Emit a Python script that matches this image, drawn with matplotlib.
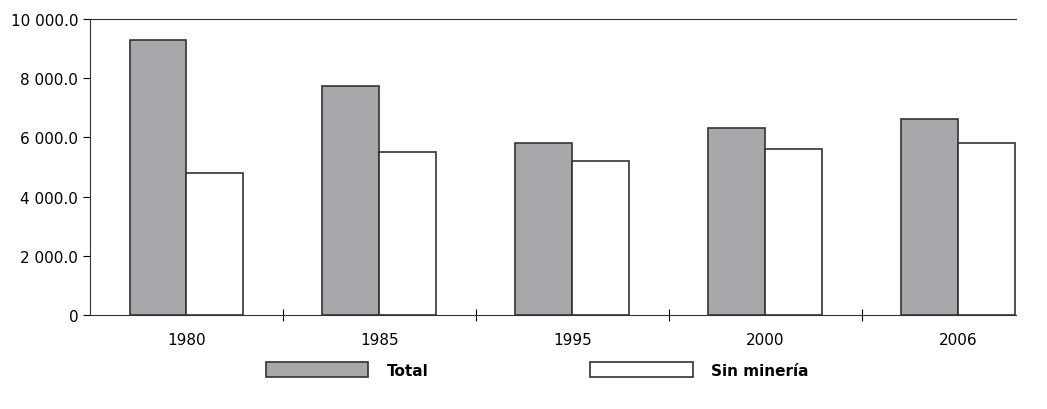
import matplotlib.pyplot as plt
import numpy as np
from matplotlib.ticker import FuncFormatter

years = ['1980', '1985', '1995', '2000', '2006']
total = [9290, 7740, 5810, 6320, 6620]
sin_mineria = [4800, 5510, 5200, 5610, 5810]

plt.rcParams['font.family'] = ['DejaVu Sans']
fig = plt.figure(figsize=(10.47, 4.10), dpi=100)
ax = fig.add_axes([90 / 1047, 1 - 316 / 410, 926 / 1047, 296 / 410])

x = np.arange(len(years))
w = 0.295
ax.bar(x - w / 2, total, w, color='#a7a8ab', edgecolor='#333333', lw=1.2, label='Total')
ax.bar(x + w / 2, sin_mineria, w, color='white', edgecolor='#333333', lw=1.2, label='Sin minería')

ax.set_yticks(np.arange(0, 10001, 2000))
ax.yaxis.set_major_formatter(FuncFormatter(
    lambda v, p: '0' if v == 0 else f'{v:,.1f}'.replace(',', ' ')))
ax.set_xticks(x[:-1] + 0.5, [''] * 4)
ax.set_xticks(x, years, minor=True)
ax.set_ylim(0, 10000)
ax.set_xlim(-0.5, 4.3)
ax.tick_params(axis='x', which='major', length=8, direction='inout')
ax.tick_params(axis='x', which='minor', length=0, pad=12)
ax.tick_params(axis='y', length=5, labelsize=11)
ax.tick_params(axis='x', which='minor', labelsize=11)
ax.spines['right'].set_visible(False)
for s in ['left', 'bottom', 'top']:
    ax.spines[s].set_color('#333333')

leg = fig.legend(loc='center', bbox_to_anchor=(0.513, 1 - 371 / 410), ncol=2, frameon=False,
                 handlelength=6.7, handleheight=1.1, columnspacing=10.6, handletextpad=1.2,
                 prop={'weight': 'bold', 'size': 11})
fig.savefig('out.png', dpi=100)
